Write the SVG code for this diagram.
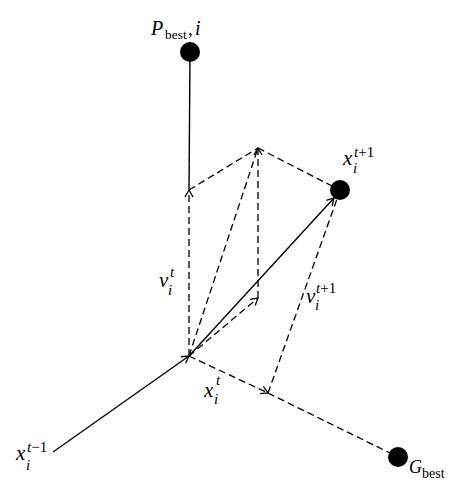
<svg xmlns="http://www.w3.org/2000/svg" width="464" height="500" viewBox="0 0 464 500">
<style>
.s{stroke:#000;stroke-width:1.4;fill:none}
.d{stroke:#000;stroke-width:1.3;fill:none;stroke-dasharray:7 4}
.dot{fill:#000}
.it{font-family:"Liberation Serif",serif;font-style:italic;fill:#000}
.up{font-family:"Liberation Serif",serif;fill:#000}
</style>
<defs>
<marker id="ah" markerWidth="12" markerHeight="12" refX="0" refY="0" viewBox="-8 -6 10 12" orient="auto" markerUnits="userSpaceOnUse">
<path d="M-7,-4 L0,0 L-7,4" stroke="#000" stroke-width="1.3" fill="none"/>
</marker>
</defs>
<rect width="464" height="500" fill="#fff"/>
<g id="connectors">
<line class="s" x1="190" y1="52" x2="189" y2="190"/>
<line class="s" x1="53" y1="452" x2="189" y2="356" marker-end="url(#ah)"/>
<line class="s" x1="189" y1="356" x2="334" y2="198" marker-end="url(#ah)"/>
<line class="d" x1="189" y1="356" x2="189" y2="190" marker-end="url(#ah)"/>
<line class="d" x1="189" y1="190" x2="258" y2="148"/>
<line class="d" x1="258" y1="148" x2="332" y2="186"/>
<line class="d" x1="189" y1="356" x2="258" y2="148"/>
<line class="d" x1="189" y1="356" x2="258" y2="298" marker-end="url(#ah)"/>
<line class="d" x1="258" y1="298" x2="258" y2="148" marker-end="url(#ah)"/>
<line class="d" x1="189" y1="356" x2="268" y2="393" marker-end="url(#ah)"/>
<line class="d" x1="268" y1="393" x2="390" y2="453"/>
<line class="d" x1="268" y1="393" x2="337" y2="199"/>
</g>
<g id="pbest">
<circle class="dot" cx="190" cy="52" r="10"/>
<text class="it" x="151" y="35" font-size="20">P</text>
<text class="up" x="165" y="39" font-size="13.5">best</text>
<text class="up" x="188" y="35" font-size="19">,</text>
<text class="it" x="195" y="35" font-size="20">i</text>
</g>
<g id="xt1">
<circle class="dot" cx="340" cy="190" r="10"/>
<text class="it" x="343" y="165" font-size="21">x</text>
<text class="it" x="353" y="173" font-size="15">i</text>
<text class="it" x="354" y="157" font-size="15">t<tspan class="up" font-style="normal">+1</tspan></text>
</g>
<g id="gbest">
<circle class="dot" cx="398" cy="457" r="10"/>
<text class="it" x="409" y="473" font-size="18">G</text>
<text class="up" x="422" y="478" font-size="14">best</text>
</g>
<g id="xtm1">
<text class="it" x="16" y="460" font-size="21">x</text>
<text class="it" x="26" y="470" font-size="15">i</text>
<text class="it" x="27" y="452" font-size="15">t<tspan class="up" font-style="normal">−1</tspan></text>
</g>
<g id="vt">
<text class="it" x="159" y="287" font-size="21">v</text>
<text class="it" x="168" y="295" font-size="15">i</text>
<text class="it" x="170" y="277" font-size="15">t</text>
</g>
<g id="xt">
<text class="it" x="204" y="397" font-size="21">x</text>
<text class="it" x="214" y="404" font-size="15">i</text>
<text class="it" x="216" y="385" font-size="15">t</text>
</g>
<g id="vt1">
<text class="it" x="306" y="303" font-size="21">v</text>
<text class="it" x="315" y="310" font-size="15">i</text>
<text class="it" x="316" y="293" font-size="15">t<tspan class="up" font-style="normal">+1</tspan></text>
</g>
</svg>
